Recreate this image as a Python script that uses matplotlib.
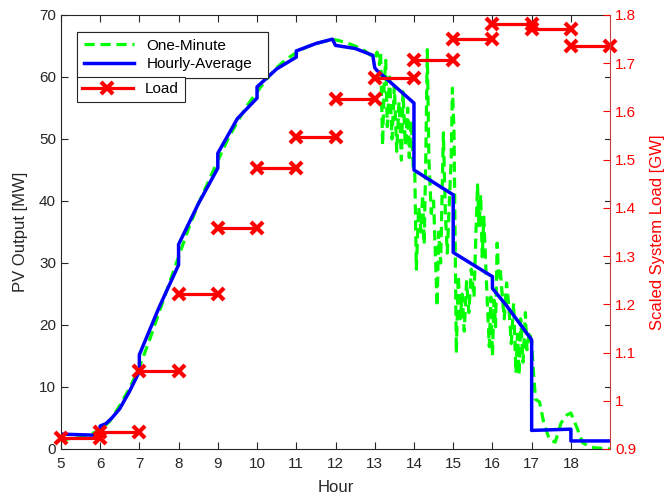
import numpy as np
import matplotlib
matplotlib.use("Agg")
import matplotlib.pyplot as plt

plt.rcParams['font.family'] = ['Liberation Sans', 'DejaVu Sans']

# one-minute PV output (hour, MW)
pv_hours = [5.0, 5.25, 5.5, 5.75, 6.0, 6.25, 6.5, 6.75, 7.0, 7.25, 7.5, 7.75,
            8.0, 8.25, 8.5, 8.75, 9.0, 9.25, 9.5, 9.75, 10.0, 10.25, 10.5, 10.75,
            11.0, 11.25, 11.5, 11.75, 12.0, 12.25, 12.5, 12.75,
            13.0, 13.06, 13.12, 13.15, 13.2, 13.24, 13.28, 13.32, 13.38, 13.44,
            13.5, 13.56, 13.62, 13.68, 13.72, 13.78, 13.84, 13.88, 13.93, 13.98,
            14.02, 14.06, 14.12, 14.18, 14.22, 14.26, 14.3, 14.34, 14.38, 14.44,
            14.5, 14.59, 14.63, 14.68, 14.75, 14.8, 14.85, 14.9, 14.95, 14.98,
            15.02, 15.08, 15.13, 15.18, 15.23, 15.28, 15.34, 15.4, 15.46, 15.53,
            15.58, 15.62, 15.66, 15.7, 15.74, 15.78, 15.84, 15.92, 15.96, 16.0,
            16.04, 16.08, 16.12, 16.16, 16.2, 16.24, 16.3, 16.36, 16.42, 16.48,
            16.54, 16.6, 16.64, 16.68, 16.72, 16.78, 16.84, 16.88, 16.94,
            17.0, 17.05, 17.1, 17.2, 17.3, 17.45, 17.6, 17.75, 17.9, 18.0,
            18.15, 18.3, 18.45, 18.6, 18.8, 19.0]
pv_mw = [1.4, 1.7, 2.0, 2.4, 3.0, 4.5, 7.0, 9.8, 13.2, 17.4, 22.0, 26.5,
         31.0, 35.5, 39.5, 43.0, 46.5, 49.9, 52.8, 55.4, 57.6, 59.7, 61.5, 62.9,
         63.9, 64.8, 65.4, 65.8, 66.0, 65.6, 65.0, 64.2,
         63.0, 64.0, 62.0, 64.0, 49.0, 58.7, 62.7, 52.0, 60.0, 50.0,
         58.5, 48.0, 56.0, 46.6, 57.6, 49.0, 55.0, 47.0, 53.0, 45.5,
         45.0, 29.0, 39.0, 35.0, 41.0, 33.0, 46.6, 64.4, 47.0, 38.0,
         40.0, 23.0, 35.0, 30.0, 51.0, 38.0, 31.6, 39.7, 47.0, 58.2,
         51.5, 15.5, 28.0, 21.0, 25.0, 19.0, 27.0, 22.0, 29.0, 24.5,
         35.0, 42.6, 35.8, 41.0, 31.0, 37.4, 28.0, 16.5, 24.5, 15.0,
         24.0, 19.7, 33.2, 27.7, 28.9, 25.6, 21.0, 26.8, 22.9, 17.0,
         23.5, 12.3, 18.5, 12.0, 21.0, 14.0, 22.0, 16.0, 19.0,
         17.0, 12.0, 8.0, 7.6, 4.5, 1.5, 1.1, 4.2, 5.5, 5.8,
         3.5, 1.0, 0.5, 0.2, 0.1, 0.0]

# hourly-average PV output (hour, MW)
avg_hours = [5.0, 6.0, 6.0, 6.15, 6.3, 6.5, 6.75, 7.0, 7.0, 7.5, 8.0, 8.0,
             8.5, 9.0, 9.0, 9.5, 10.0, 10.0, 10.5, 11.0, 11.0, 11.5, 11.92, 12.0,
             12.5, 12.95, 13.0, 13.05, 14.0, 14.0, 15.0, 15.0, 16.0, 16.0,
             16.35, 17.0, 17.0, 18.0, 18.0, 19.0]
avg_mw = [2.4, 2.2, 3.7, 4.1, 5.0, 6.5, 9.3, 12.5, 15.2, 22.8, 29.7, 33.0,
          39.5, 45.3, 47.7, 53.3, 56.6, 58.4, 61.3, 63.2, 64.2, 65.4, 66.1, 65.1,
          64.6, 63.5, 61.5, 61.1, 55.8, 45.0, 41.0, 31.7, 27.8, 25.9,
          23.2, 17.6, 3.0, 3.2, 1.3, 1.3]

# scaled system load per hour (GW)
load_start = [5, 6, 7, 8, 9, 10, 11, 12, 13, 14, 15, 16, 17, 18]
load_gw = [0.923, 0.935, 1.062, 1.221, 1.358, 1.483, 1.548, 1.626, 1.669,
           1.707, 1.751, 1.782, 1.770, 1.735]

fig = plt.figure(figsize=(6.69, 5.0), dpi=100)
ax = fig.add_axes([0.091, 0.102, 0.821, 0.868])
ax2 = ax.twinx()

gray = '#262626'
l1, = ax.plot(pv_hours, pv_mw, color='#00ff00', lw=2.3, ls='--',
              dashes=(3.2, 1.8), label='One-Minute')
l2, = ax.plot(avg_hours, avg_mw, color='#0000ff', lw=2.5, label='Hourly-Average')

lx, ly = [], []
for h, v in zip(load_start, load_gw):
    lx += [h, h + 1, np.nan]
    ly += [v, v, np.nan]
l3, = ax2.plot(lx, ly, color='#ff0000', lw=2.3, marker='x', ms=8, mew=3,
               label='Load', clip_on=False)

ax.set_xlim(5, 19)
ax.set_ylim(0, 70)
ax.set_xticks(range(5, 19))
ax.set_yticks(range(0, 71, 10))
ax.tick_params(direction='in', length=5, colors=gray, labelsize=11,
               top=True, right=False)
ax.tick_params(axis='x', pad=6)
for s in ['left', 'bottom', 'top']:
    ax.spines[s].set_color(gray)
ax.spines['right'].set_visible(False)

ax2.set_ylim(0.9, 1.8)
rt = [0.9, 1.0, 1.1, 1.2, 1.3, 1.4, 1.5, 1.6, 1.7, 1.8]
ax2.set_yticks(rt)
ax2.set_yticklabels(['0.9', '1', '1.1', '1.2', '1.3', '1.4', '1.5', '1.6', '1.7', '1.8'])
ax2.tick_params(direction='in', length=5, color='#ff0000', labelcolor='#ff0000',
                labelsize=11)
ax2.spines['right'].set_color('#c83c3c')
for s in ['left', 'bottom', 'top']:
    ax2.spines[s].set_visible(False)
# left-axis ticks mirrored on the right edge
for t in range(10, 70, 10):
    ax.plot([19, 19 - 0.13], [t, t], color=gray, lw=0.8, clip_on=False)

ax.set_xlabel('Hour', fontsize=12, color=gray, labelpad=6)
ax.set_ylabel('PV Output [MW]', fontsize=12, color=gray, labelpad=8)
ax2.set_ylabel('Scaled System Load [GW]', fontsize=12, color='#ff0000', labelpad=10)

leg1 = ax.legend(handles=[l1, l2], loc='upper left',
                 bbox_to_anchor=(0.029, 0.5, 0.348, 0.461), mode='expand',
                 fontsize=11, fancybox=False, framealpha=1, edgecolor=gray,
                 handlelength=3.3, borderaxespad=0, borderpad=0.45, labelspacing=0.3)
leg1.get_frame().set_linewidth(0.8)
ax.add_artist(leg1)
leg2 = ax2.legend(handles=[l3], loc='upper left',
                  bbox_to_anchor=(0.029, 0.5, 0.197, 0.357), mode='expand',
                  fontsize=11, fancybox=False, framealpha=1, edgecolor=gray,
                  handlelength=3.3, borderaxespad=0, borderpad=0.35)
leg2.get_frame().set_linewidth(0.8)

fig.savefig('out.png', dpi=100)
